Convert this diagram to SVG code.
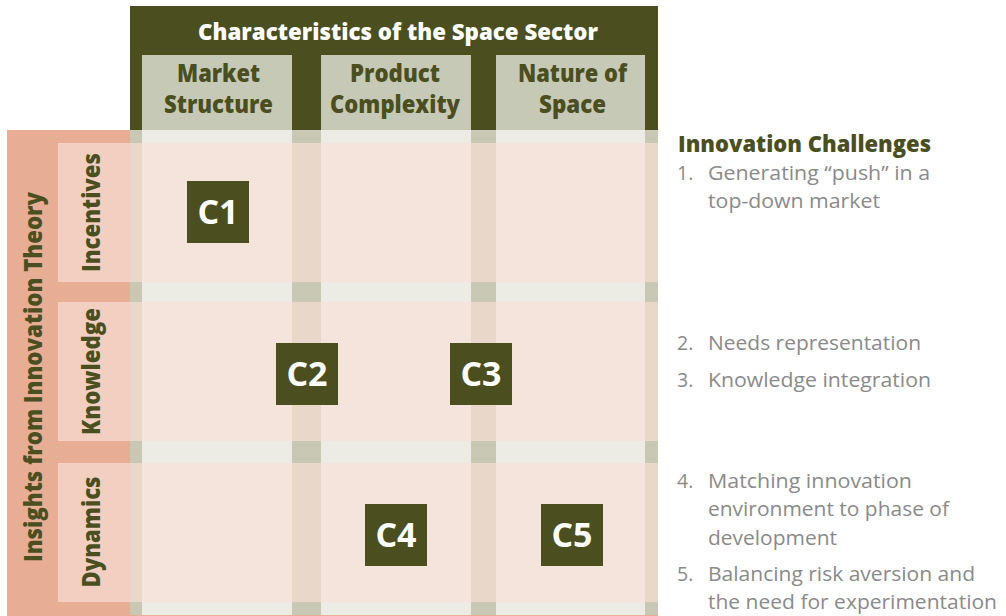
<svg xmlns="http://www.w3.org/2000/svg" width="1006" height="616" viewBox="0 0 1006 616">
<style>
.dk{fill:#4b4f1f}
.hb{fill:#c7c9b7}
.strip{fill:#edece4}
.cell{fill:#f5e4dc}
.vcell{fill:#e9d8ca}
.vstrip{fill:#c8c8b5}
.sal{fill:#e8ad95}
.lab{fill:#f2cfc0}
.ttl{font-family:"Open Sans",sans-serif;font-weight:800;fill:#ffffff}
.hdr{font-family:"Open Sans",sans-serif;font-weight:800;fill:#4b4f1f;text-anchor:middle}
.rl{font-family:"Open Sans",sans-serif;font-weight:800;fill:#4b4f1f;text-anchor:middle}
.cl{font-family:"Open Sans",sans-serif;font-weight:700;fill:#ffffff;text-anchor:middle;font-size:34px}
.it{font-family:"Open Sans",sans-serif;font-weight:400;fill:#8a8a8a;font-size:19.5px}
.ih{font-family:"Open Sans",sans-serif;font-weight:800;fill:#4b4f1f;font-size:22px}
</style>
<rect width="1006" height="616" fill="#ffffff"/>
<g id="grid">
<rect class="sal" x="7" y="130" width="651" height="486"/>
<rect class="dk" x="130" y="6" width="528" height="124"/>
<rect class="strip" x="130" y="130" width="528" height="485"/>
<rect class="cell" x="130" y="143" width="528" height="139"/>
<rect class="cell" x="130" y="302" width="528" height="139"/>
<rect class="cell" x="130" y="463" width="528" height="139"/>
<g id="vstripes">
<rect class="vcell" x="130" y="130" width="12" height="485"/>
<rect class="vcell" x="292" y="130" width="29" height="485"/>
<rect class="vcell" x="471" y="130" width="25" height="485"/>
<rect class="vcell" x="645" y="130" width="13" height="485"/>
</g>
<g id="intersections">
<rect class="vstrip" x="130" y="130" width="12" height="13"/>
<rect class="vstrip" x="292" y="130" width="29" height="13"/>
<rect class="vstrip" x="471" y="130" width="25" height="13"/>
<rect class="vstrip" x="645" y="130" width="13" height="13"/>
<rect class="vstrip" x="130" y="282" width="12" height="20"/>
<rect class="vstrip" x="292" y="282" width="29" height="20"/>
<rect class="vstrip" x="471" y="282" width="25" height="20"/>
<rect class="vstrip" x="645" y="282" width="13" height="20"/>
<rect class="vstrip" x="130" y="441" width="12" height="22"/>
<rect class="vstrip" x="292" y="441" width="29" height="22"/>
<rect class="vstrip" x="471" y="441" width="25" height="22"/>
<rect class="vstrip" x="645" y="441" width="13" height="22"/>
<rect class="vstrip" x="130" y="602" width="12" height="13"/>
<rect class="vstrip" x="292" y="602" width="29" height="13"/>
<rect class="vstrip" x="471" y="602" width="25" height="13"/>
<rect class="vstrip" x="645" y="602" width="13" height="13"/>
</g>
</g>
<g id="title">
<text class="ttl" x="198" y="40" font-size="23" textLength="400" lengthAdjust="spacingAndGlyphs">Characteristics of the Space Sector</text>
</g>
<g id="col-market">
<rect class="hb" x="142" y="55" width="150" height="75"/>
<text class="hdr" x="218.5" y="82" font-size="24" textLength="83" lengthAdjust="spacingAndGlyphs">Market</text>
<text class="hdr" x="218.5" y="113" font-size="24" textLength="109" lengthAdjust="spacingAndGlyphs">Structure</text>
</g>
<g id="col-product">
<rect class="hb" x="321" y="55" width="150" height="75"/>
<text class="hdr" x="395" y="82" font-size="24" textLength="90" lengthAdjust="spacingAndGlyphs">Product</text>
<text class="hdr" x="395" y="113" font-size="24" textLength="130" lengthAdjust="spacingAndGlyphs">Complexity</text>
</g>
<g id="col-nature">
<rect class="hb" x="496" y="55" width="149" height="75"/>
<text class="hdr" x="572.5" y="82" font-size="24" textLength="109" lengthAdjust="spacingAndGlyphs">Nature of</text>
<text class="hdr" x="572.5" y="113" font-size="24" textLength="67" lengthAdjust="spacingAndGlyphs">Space</text>
</g>
<g id="row-axis">
<text class="rl" transform="translate(42,377) rotate(-90)" font-size="25" textLength="370" lengthAdjust="spacingAndGlyphs">Insights from Innovation Theory</text>
</g>
<g id="row-incentives">
<rect class="lab" x="58" y="143" width="72" height="139"/>
<text class="rl" transform="translate(100,212.5) rotate(-90)" font-size="25" textLength="119" lengthAdjust="spacingAndGlyphs">Incentives</text>
</g>
<g id="row-knowledge">
<rect class="lab" x="58" y="302" width="72" height="139"/>
<text class="rl" transform="translate(100,371.5) rotate(-90)" font-size="25" textLength="127" lengthAdjust="spacingAndGlyphs">Knowledge</text>
</g>
<g id="row-dynamics">
<rect class="lab" x="58" y="463" width="72" height="139"/>
<text class="rl" transform="translate(100,532) rotate(-90)" font-size="25" textLength="111" lengthAdjust="spacingAndGlyphs">Dynamics</text>
</g>
<g id="c1"><rect class="dk" x="187" y="181" width="62" height="62"/><text class="cl" x="218" y="224">C1</text></g>
<g id="c2"><rect class="dk" x="276" y="343" width="62" height="62"/><text class="cl" x="307" y="386">C2</text></g>
<g id="c3"><rect class="dk" x="450" y="343" width="62" height="62"/><text class="cl" x="481" y="386">C3</text></g>
<g id="c4"><rect class="dk" x="365" y="504" width="62" height="62"/><text class="cl" x="396" y="547">C4</text></g>
<g id="c5"><rect class="dk" x="541" y="504" width="62" height="62"/><text class="cl" x="572" y="547">C5</text></g>
<g id="connectors"></g>
<g id="challenges">
<text class="ih" x="678" y="152" textLength="253" lengthAdjust="spacingAndGlyphs">Innovation Challenges</text>
<text class="it" x="677" y="180">1.</text>
<text class="it" x="708" y="180" textLength="222" lengthAdjust="spacingAndGlyphs">Generating “push” in a</text>
<text class="it" x="708" y="208" textLength="172" lengthAdjust="spacingAndGlyphs">top-down market</text>
<text class="it" x="677" y="350">2.</text>
<text class="it" x="708" y="350" textLength="213" lengthAdjust="spacingAndGlyphs">Needs representation</text>
<text class="it" x="677" y="387">3.</text>
<text class="it" x="708" y="387" textLength="223" lengthAdjust="spacingAndGlyphs">Knowledge integration</text>
<text class="it" x="677" y="488">4.</text>
<text class="it" x="708" y="488" textLength="204" lengthAdjust="spacingAndGlyphs">Matching innovation</text>
<text class="it" x="708" y="516" textLength="241" lengthAdjust="spacingAndGlyphs">environment to phase of</text>
<text class="it" x="708" y="545" textLength="129" lengthAdjust="spacingAndGlyphs">development</text>
<text class="it" x="677" y="581">5.</text>
<text class="it" x="708" y="581" textLength="267" lengthAdjust="spacingAndGlyphs">Balancing risk aversion and</text>
<text class="it" x="708" y="609" textLength="289" lengthAdjust="spacingAndGlyphs">the need for experimentation</text>
</g>
</svg>
